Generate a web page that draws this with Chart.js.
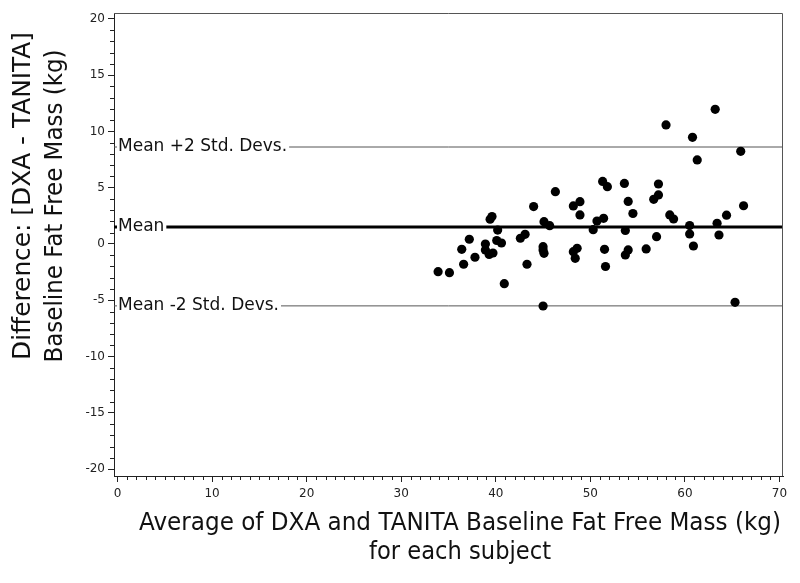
<!DOCTYPE html>
<html>
<head>
<meta charset="utf-8">
<script src="https://cdn.jsdelivr.net/npm/chart.js@4.4.1/dist/chart.umd.min.js"></script>
<style>
html,body{margin:0;padding:0;background:#fff;}
#wrap{width:800px;height:583px;}
</style>
</head>
<body>
<div id="wrap"><canvas id="c" width="800" height="583"></canvas></div>
<script>
// Average of DXA and TANITA baseline fat free mass (kg)
const avgFFM = [33.9,35.1,36.4,36.6,37.2,37.8,38.9,38.9,39.3,39.7,39.4,39.6,40.2,40.1,40.6,40.9,
  42.6,43.1,43.3,44.0,45.0,45.0,45.0,45.1,45.1,45.7,46.3,48.2,48.9,48.9,48.2,48.6,48.4,
  50.3,50.7,51.4,51.3,51.8,51.5,51.6,53.6,54.0,54.5,53.7,54.0,53.7,55.9,56.7,57.2,57.2,
  57.0,58.0,58.4,58.8,60.5,60.5,60.9,60.8,61.3,63.2,63.4,63.6,64.4,65.3,65.9,66.2];
// Difference: DXA - TANITA (kg)
const diffFFM = [-2.46,-2.55,-0.47,-1.80,0.42,-1.18,0.00,-0.53,-0.93,-0.80,2.20,2.44,1.24,0.31,0.09,-3.53,
  0.51,0.86,-1.80,3.33,-5.51,-0.24,-0.53,-0.83,1.98,1.63,4.65,3.38,3.76,2.58,-0.68,-0.38,-1.27,
  1.27,2.04,2.28,5.56,5.09,-0.47,-2.00,5.38,3.78,2.71,1.20,-0.53,-0.98,-0.44,3.97,4.36,5.33,
  0.65,10.58,2.58,2.22,1.64,0.89,-0.18,9.48,7.47,11.97,1.84,0.80,2.56,-5.18,8.24,3.40];
const xTickValues = [0,10,20,30,40,50,60,70];
const yTickValues = [-20,-15,-10,-5,0,5,10,15,20];
const refLabels = ["Mean +2 Std. Devs.", "Mean", "Mean -2 Std. Devs."];
const refValues = [8.62, 1.52, -5.5];
const xTitle = ["Average of DXA and TANITA Baseline Fat Free Mass (kg)", "for each subject"];
const yTitle = ["Difference: [DXA - TANITA]", "Baseline Fat Free Mass (kg)"];

const FONT = "'DejaVu Sans', Verdana, sans-serif";

const points = avgFFM.map((x, i) => ({x: x, y: diffFFM[i]}));

function fitText(ctx, text, cx, cy, targetW, rot) {
  const w = ctx.measureText(text).width;
  ctx.save();
  ctx.translate(cx, cy);
  if (rot) ctx.rotate(rot);
  ctx.scale(targetW / w, 1);
  ctx.fillText(text, 0, 0);
  ctx.restore();
}

const decorPlugin = {
  id: 'decor',
  beforeDatasetsDraw(chart) {
    const ctx = chart.ctx;
    const a = chart.chartArea;
    const ys = chart.scales.y;
    ctx.save();
    refValues.forEach((v, i) => {
      const py = ys.getPixelForValue(v);
      ctx.beginPath();
      ctx.strokeStyle = i === 1 ? '#000' : '#555';
      ctx.lineWidth = i === 1 ? 3 : 1;
      ctx.moveTo(a.left, py);
      ctx.lineTo(a.right, py);
      ctx.stroke();
      ctx.font = '17px ' + FONT;
      const w = ctx.measureText(refLabels[i]).width;
      ctx.fillStyle = '#fff';
      ctx.fillRect(a.left + 3, py - 10, w + 3, 20);
      ctx.fillStyle = '#111';
      ctx.textBaseline = 'middle';
      ctx.textAlign = 'left';
      ctx.fillText(refLabels[i], a.left + 4, py);
    });
    ctx.restore();
  },
  afterDraw(chart) {
    const ctx = chart.ctx;
    const a = chart.chartArea;
    const xs = chart.scales.x, ys = chart.scales.y;
    ctx.save();
    // frame (top and right)
    ctx.strokeStyle = '#555';
    ctx.lineWidth = 1;
    ctx.beginPath();
    ctx.moveTo(a.left, a.top + 0.5);
    ctx.lineTo(a.right - 0.5, a.top + 0.5);
    ctx.lineTo(a.right - 0.5, a.bottom);
    ctx.stroke();
    // minor ticks
    ctx.strokeStyle = '#222';
    ctx.beginPath();
    for (let v = -20; v <= 20; v++) {
      if (v % 5 === 0) continue;
      const py = Math.round(ys.getPixelForValue(v)) + 0.5;
      ctx.moveTo(a.left - 4, py);
      ctx.lineTo(a.left, py);
    }
    for (let v = 0; v <= 70; v++) {
      if (v % 10 === 0) continue;
      const px = Math.round(xs.getPixelForValue(v)) + 0.5;
      ctx.moveTo(px, a.bottom);
      ctx.lineTo(px, a.bottom + 4);
    }
    ctx.stroke();
    // axis titles
    ctx.fillStyle = '#111';
    ctx.font = '24px ' + FONT;
    ctx.textAlign = 'center';
    ctx.textBaseline = 'middle';
    fitText(ctx, xTitle[0], 460, 524, 642, 0);
    fitText(ctx, xTitle[1], 460, 553, 182, 0);
    fitText(ctx, yTitle[0], 24, 196, 328, -Math.PI / 2);
    fitText(ctx, yTitle[1], 56, 206, 313, -Math.PI / 2);
    ctx.restore();
  }
};

new Chart(document.getElementById('c'), {
  type: 'scatter',
  data: {
    datasets: [{
      data: points,
      backgroundColor: '#000',
      borderColor: '#000',
      borderWidth: 0,
      pointRadius: 4.6,
      pointHoverRadius: 4.6
    }]
  },
  options: {
    responsive: false,
    animation: false,
    devicePixelRatio: 1,
    layout: {padding: {left: 0, top: 13, right: 17, bottom: 0}},
    plugins: {legend: {display: false}, tooltip: {enabled: false}},
    scales: {
      x: {
        type: 'linear',
        min: -0.37,
        max: 70.37,
        afterBuildTicks(s) { s.ticks = xTickValues.map(v => ({value: v})); },
        afterFit(s) { s.height = 107; },
        border: {display: true, color: '#222', width: 1},
        grid: {drawOnChartArea: false, drawTicks: true, tickLength: 6, color: '#222'},
        ticks: {color: '#222', font: {family: FONT, size: 12}, padding: 5, maxRotation: 0}
      },
      y: {
        type: 'linear',
        min: -20.62,
        max: 20.53,
        afterBuildTicks(s) { s.ticks = yTickValues.map(v => ({value: v})); },
        afterFit(s) { s.width = 114; },
        border: {display: true, color: '#222', width: 1},
        grid: {drawOnChartArea: false, drawTicks: true, tickLength: 6, color: '#222'},
        ticks: {color: '#222', font: {family: FONT, size: 12}, padding: 3}
      }
    }
  },
  plugins: [decorPlugin]
});
</script>
</body>
</html>
